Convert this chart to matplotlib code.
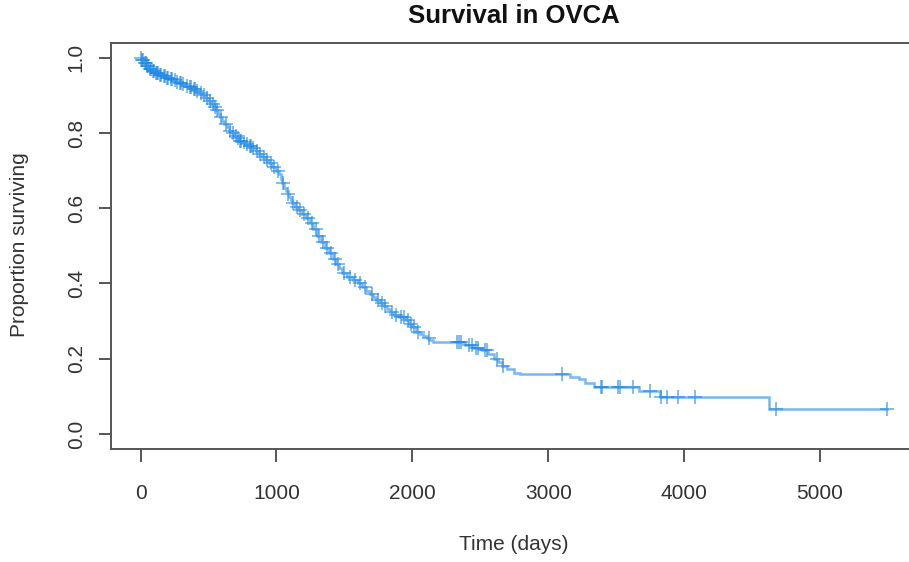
import numpy as np
import matplotlib
matplotlib.use("Agg")
import matplotlib.pyplot as plt

# ---- data (Kaplan-Meier estimate) ----
event_times = [0, 10, 25, 45, 60, 80, 105, 135, 160, 186, 215, 240, 260, 282, 305,
               330, 355, 380, 405, 430, 455, 480, 500, 520, 538, 554, 570, 585, 600,
               615, 633, 650, 670, 690, 708, 725, 748, 770, 795, 822, 846, 870, 895,
               920, 945, 970, 995, 1020, 1032, 1043, 1057, 1070, 1082, 1094, 1105,
               1117, 1138, 1160, 1190, 1218, 1245, 1270, 1300, 1327, 1358, 1388, 1414,
               1440, 1462, 1485, 1522, 1560, 1597, 1633, 1662, 1690, 1713, 1736, 1763,
               1790, 1811, 1832, 1866, 1900, 1955, 1978, 2000, 2030, 2055, 2080, 2105,
               2126, 2150, 2390, 2450, 2510, 2560, 2600, 2630, 2660, 2700, 2750, 2790,
               3160, 3230, 3270, 3340, 3670, 3820, 4625]
survival = [1.0, 0.993, 0.986, 0.978, 0.970, 0.965, 0.960, 0.955, 0.951, 0.947, 0.943,
            0.940, 0.936, 0.932, 0.929, 0.925, 0.921, 0.917, 0.912, 0.906, 0.900, 0.894,
            0.886, 0.878, 0.869, 0.860, 0.851, 0.842, 0.833, 0.824, 0.815, 0.806, 0.799,
            0.792, 0.786, 0.780, 0.775, 0.770, 0.766, 0.761, 0.753, 0.745, 0.736, 0.727,
            0.719, 0.710, 0.700, 0.690, 0.678, 0.666, 0.655, 0.645, 0.637, 0.630, 0.621,
            0.613, 0.603, 0.594, 0.584, 0.574, 0.560, 0.545, 0.527, 0.509, 0.494, 0.480,
            0.466, 0.452, 0.440, 0.427, 0.418, 0.410, 0.400, 0.390, 0.381, 0.372, 0.363,
            0.355, 0.347, 0.340, 0.332, 0.324, 0.317, 0.310, 0.302, 0.293, 0.285, 0.271,
            0.265, 0.260, 0.254, 0.249, 0.245, 0.237, 0.229, 0.222, 0.213, 0.200, 0.190,
            0.180, 0.172, 0.163, 0.159, 0.151, 0.146, 0.135, 0.125, 0.114, 0.098, 0.066]
end_time = 5494
censor_times = [5, 12, 18, 30, 38, 50, 55, 68, 75, 90, 98, 112, 120, 128, 145, 152, 170,
                178, 195, 205, 225, 232, 250, 270, 290, 298, 315, 340, 365, 372, 392,
                400, 418, 442, 465, 490, 510, 530, 545, 562, 592, 625, 660, 680, 700,
                715, 735, 742, 760, 780, 805, 812, 830, 855, 880, 905, 930, 958, 985,
                1008, 1050, 1088, 1125, 1150, 1175, 1205, 1230, 1260, 1290, 1315, 1340,
                1370, 1400, 1428, 1452, 1500, 1540, 1580, 1615, 1650, 1700, 1750, 1775,
                1800, 1850, 1880, 1920, 1940, 1965, 1990, 2015, 2045, 2125, 2330, 2345,
                2360, 2420, 2440, 2465, 2480, 2535, 2552, 2620, 2665, 3105, 3390, 3398,
                3510, 3525, 3622, 3747, 3828, 3872, 3953, 4079, 4676, 5494]

# ---- figure ----
W, H = 909, 562
fig = plt.figure(figsize=(W / 100, H / 100), dpi=100)
fig.patch.set_facecolor("white")
plt.rcParams["font.family"] = ["Liberation Sans", "DejaVu Sans"]

left, right, top, bottom = 110.7, 917.0, 42.7, 449.0
ax = fig.add_axes([left / W, 1 - bottom / H, (right - left) / W, (bottom - top) / H])
ax.set_xlim(-0.04 * 5500, 5500 * 1.04 - 6)
ax.set_ylim(-0.04, 1.04)

col = "#1E88E5"
xs = list(event_times) + [end_time]
ys = list(survival) + [survival[-1]]
ax.step(xs, ys, where="post", color=col, alpha=0.6, lw=1.8, solid_joinstyle="miter")

cs = [survival[np.searchsorted(event_times, t, side="right") - 1] for t in censor_times]
ax.plot(censor_times, cs, linestyle="none", marker="+", markersize=10,
        markeredgewidth=1.3, color=col, alpha=0.6)

for s in ax.spines.values():
    s.set_color("#555555")
    s.set_linewidth(1.4)

ax.set_xticks([0, 1000, 2000, 3000, 4000, 5000])
ax.set_yticks([0.0, 0.2, 0.4, 0.6, 0.8, 1.0])
ax.set_yticklabels(["0.0", "0.2", "0.4", "0.6", "0.8", "1.0"], rotation=90, va="center")
ax.tick_params(axis="both", direction="out", length=9, width=1.4, color="#555555",
               labelsize=15, labelcolor="#333333")
ax.tick_params(axis="x", pad=16)
ax.tick_params(axis="y", pad=9)

fig.text(514 / W, 1 - 16 / H, "Survival in OVCA", ha="center", va="center",
         fontsize=18.5, fontweight="bold", color="#111111")
fig.text(514 / W, 1 - 545 / H, "Time (days)", ha="center", va="center",
         fontsize=15, color="#333333")
fig.text(20 / W, 1 - 245 / H, "Proportion surviving", ha="center", va="center",
         rotation=90, fontsize=15, color="#333333")

fig.savefig("out.png", dpi=100)
